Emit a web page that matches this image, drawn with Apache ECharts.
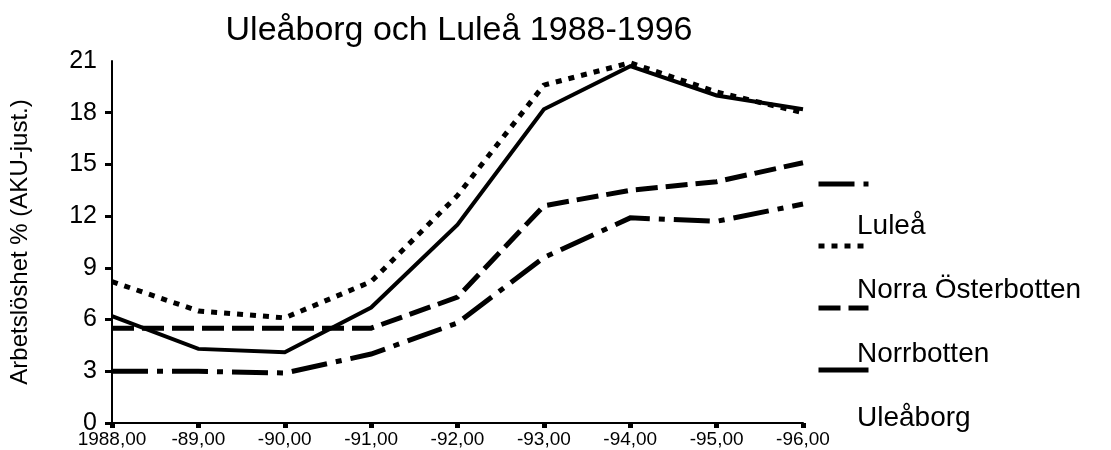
<!DOCTYPE html>
<html>
<head>
<meta charset="utf-8">
<script src="https://cdn.jsdelivr.net/npm/echarts@6/dist/echarts.min.js"></script>
<style>
  html, body { margin: 0; padding: 0; background: #fff; }
  #chart { width: 1111px; height: 450px; }
</style>
</head>
<body>
<div id="chart"></div>
<script>
// kategorier (år) och y-skala
var years = ['1988,00', '-89,00', '-90,00', '-91,00', '-92,00', '-93,00', '-94,00', '-95,00', '-96,00'];
var yTicks = [0, 3, 6, 9, 12, 15, 18, 21];

// arbetslöshet %
var lulea = [8.2, 6.5, 6.1, 8.2, 13.2, 19.6, 20.9, 19.2, 18.0];
var norraOsterbotten = [5.5, 5.5, 5.5, 5.5, 7.3, 12.6, 13.5, 14.0, 15.1];
var norrbotten = [6.2, 4.3, 4.1, 6.7, 11.5, 18.2, 20.7, 19.0, 18.2];
var uleaborg = [3.0, 3.0, 2.9, 4.0, 5.8, 9.6, 11.9, 11.7, 12.7];

var font = 'Liberation Sans, Arial, sans-serif';

var chart = echarts.init(document.getElementById('chart'));

function lineSeries(name, values, width, dash) {
    return {
        name: name,
        type: 'line',
        data: values,
        symbol: 'none',
        showSymbol: false,
        silent: true,
        color: '#000',
        itemStyle: { color: '#000' },
        lineStyle: { color: '#000', width: width, type: dash, join: 'miter' }
    };
}

var option = {
    backgroundColor: '#fff',
    animation: false,
    title: {
        text: 'Uleåborg och Luleå 1988-1996',
        left: 454,
        textAlign: 'center',
        top: 9,
        textStyle: { fontFamily: font, fontSize: 34, fontWeight: 'normal', color: '#000' }
    },
    // linjeprover (legend utan text)
    legend: [{
        orient: 'vertical',
        left: 816,
        top: 179,
        padding: 0,
        itemWidth: 50,
        itemHeight: 10,
        itemGap: 53,
        selectedMode: false,
        data: ['Uleåborg', 'Luleå', 'Norra Österbotten', 'Norrbotten'],
        formatter: function () { return ''; },
        textStyle: { fontSize: 1 },
        itemStyle: { opacity: 0 },
        lineStyle: { width: 5 }
    }, {
        // legendtexter
        orient: 'vertical',
        left: 852,
        top: 210,
        padding: 0,
        itemWidth: 0,
        itemHeight: 0,
        itemGap: 32,
        selectedMode: false,
        icon: 'rect',
        itemStyle: { opacity: 0 },
        data: ['Luleå', 'Norra Österbotten', 'Norrbotten', 'Uleåborg'],
        textStyle: { fontFamily: font, fontSize: 28, color: '#000', lineHeight: 32 }
    }],
    grid: { left: 111, right: 308, top: 61, bottom: 27, containLabel: false },
    xAxis: {
        type: 'category',
        data: years,
        boundaryGap: false,
        axisLine: { lineStyle: { color: '#000', width: 2 } },
        axisTick: { alignWithLabel: true, interval: 0, length: 5, lineStyle: { color: '#000', width: 5 } },
        axisLabel: { color: '#000', fontFamily: font, fontSize: 19, margin: 7, interval: 0, hideOverlap: false },
        splitLine: { show: false }
    },
    yAxis: {
        type: 'value',
        min: yTicks[0],
        max: yTicks[yTicks.length - 1],
        interval: 3,
        name: 'Arbetslöshet % (AKU-just.)',
        nameLocation: 'middle',
        nameGap: 80,
        nameTextStyle: { color: '#000', fontFamily: font, fontSize: 24 },
        axisLine: { show: true, lineStyle: { color: '#000', width: 2 } },
        axisTick: { show: true, length: 7, customValues: yTicks.slice(0, -1), lineStyle: { color: '#000', width: 3 } },
        axisLabel: { color: '#000', fontFamily: font, fontSize: 25, margin: 15 },
        splitLine: { show: false }
    },
    series: [
        lineSeries('Luleå', lulea, 5, [6, 7]),
        lineSeries('Norra Österbotten', norraOsterbotten, 5, [22, 8]),
        lineSeries('Norrbotten', norrbotten, 4, 'solid'),
        lineSeries('Uleåborg', uleaborg, 5, [36, 9, 6, 9])
    ]
};

chart.setOption(option);
</script>
</body>
</html>
